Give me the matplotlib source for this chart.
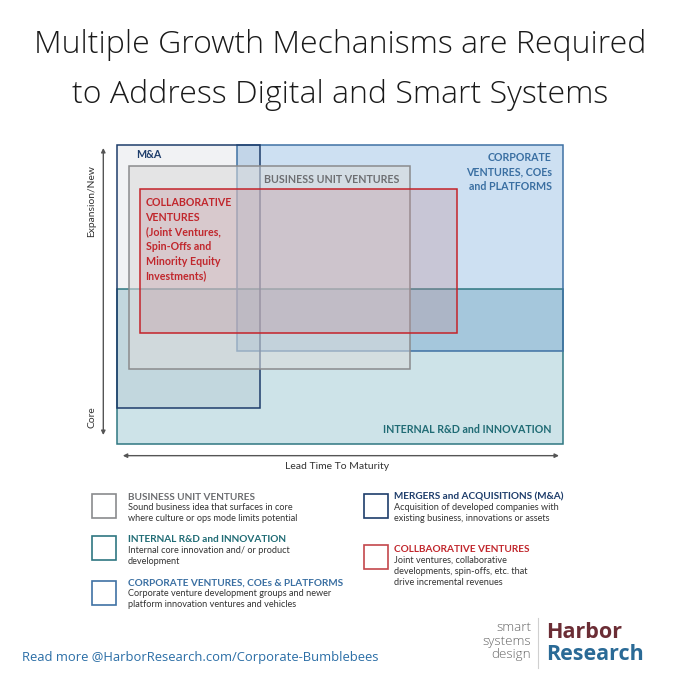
import matplotlib
matplotlib.use("Agg")
import matplotlib.pyplot as plt
from matplotlib.patches import Rectangle
from itertools import combinations

# ---------------- data ----------------
title_lines = ["Multiple Growth Mechanisms are Required", "to Address Digital and Smart Systems"]

# rectangles in chart units (x: lead time 0-100, y: core 0 -> expansion 100): x, y, w, h
rect_internal = (0.0, 0.0, 100.0, 52.0)
rect_corporate = (27.0, 31.0, 73.0, 69.0)
rect_mna = (0.0, 12.0, 32.0, 88.0)
rect_buv = (2.8, 25.0, 63.0, 68.0)
rect_collab = (5.1, 37.1, 71.1, 48.3)

label_mna = "M&A"
label_buv = "BUSINESS UNIT VENTURES"
label_corp = "CORPORATE\nVENTURES, COEs\nand PLATFORMS"
label_collab = "COLLABORATIVE\nVENTURES\n(Joint Ventures,\nSpin-Offs and\nMinority Equity\nInvestments)"
label_internal = "INTERNAL R&D and INNOVATION"

axis_y_top = "Expansion/New"
axis_y_bottom = "Core"
axis_x = "Lead Time To Maturity"

legend_titles = ["BUSINESS UNIT VENTURES", "INTERNAL R&D and INNOVATION",
                 "CORPORATE VENTURES, COEs & PLATFORMS",
                 "MERGERS and ACQUISITIONS (M&A)", "COLLBAORATIVE VENTURES"]
legend_desc = ["Sound business idea that surfaces in core\nwhere culture or ops mode limits potential",
               "Internal core innovation and/ or product\ndevelopment",
               "Corporate venture development groups and newer\nplatform innovation ventures and vehicles",
               "Acquisition of developed companies with\nexisting business, innovations or assets",
               "Joint ventures, collaborative\ndevelopments, spin-offs, etc. that\ndrive incremental revenues"]

footer = "Read more @HarborResearch.com/Corporate-Bumblebees"
logo_small = "smart\nsystems\ndesign"
logo_top = "Harbor"
logo_bottom = "Research"

# ---------------- styles ----------------
C_INT_FILL = (205, 227, 232)
C_CORP_FILL = (205, 224, 242)
C_MNA_FILL = (241, 242, 244)
C_INT = "#2f7781"
C_CORP = "#3f72a4"
C_MNA = "#1e3d6b"
C_BUV = "#8a8b8d"
C_COL = "#c4232a"
C_BUV_TXT = "#6d6e71"
C_INT_TXT = "#1f6b74"
C_CORP_TXT = "#3a6fa2"
C_COL_TXT = "#c1272d"
BOLD = "Lato"
REG = "Lato"
FS_CHART = 7.7

W = H = 680
fig = plt.figure(figsize=(6.8, 6.8), dpi=100)
fig.patch.set_facecolor("white")


def fx(x):
    return x / W


def fy(y):
    return 1 - y / H


# chart axes
left, top, right, bottom = 117, 145, 563, 444
ax = fig.add_axes([fx(left), fy(bottom), (right - left) / W, (bottom - top) / H])
ax.set_xlim(0, 100)
ax.set_ylim(0, 100)
ax.axis("off")

base = [(rect_internal, C_INT_FILL, C_INT), (rect_corporate, C_CORP_FILL, C_CORP),
        (rect_mna, C_MNA_FILL, C_MNA)]


def inter(a, b):
    x0 = max(a[0], b[0]); y0 = max(a[1], b[1])
    x1 = min(a[0] + a[2], b[0] + b[2]); y1 = min(a[1] + a[3], b[1] + b[3])
    if x1 <= x0 or y1 <= y0:
        return None
    return (x0, y0, x1 - x0, y1 - y0)


# multiply-blended base layers
for k in range(1, len(base) + 1):
    for combo in combinations(base, k):
        r = combo[0][0]
        col = [1.0, 1.0, 1.0]
        for idx, (rr, c, _) in enumerate(combo):
            if idx > 0 and r is not None:
                r = inter(r, rr)
            col = [col[i] * c[i] / 255 for i in range(3)]
        if r is None:
            continue
        ax.add_patch(Rectangle((r[0], r[1]), r[2], r[3], facecolor=col,
                               edgecolor="none", clip_on=False, zorder=1))

for rr, _, ec in base:
    ax.add_patch(Rectangle((rr[0], rr[1]), rr[2], rr[3], fill=False, edgecolor=ec,
                           lw=1.1, clip_on=False, zorder=2))

ax.add_patch(Rectangle((rect_buv[0], rect_buv[1]), rect_buv[2], rect_buv[3],
                       facecolor=(219 / 255, 219 / 255, 219 / 255, 0.57), edgecolor=C_BUV,
                       lw=1.1, clip_on=False, zorder=3))
ax.add_patch(Rectangle((rect_collab[0], rect_collab[1]), rect_collab[2], rect_collab[3],
                       facecolor=(190 / 255, 140 / 255, 150 / 255, 0.30), edgecolor=C_COL,
                       lw=1.1, clip_on=False, zorder=4))

# labels inside chart
ax.text(4.3, 96.7, label_mna, color=C_MNA, fontsize=FS_CHART, fontweight="bold",
        family=BOLD, ha="left", va="center", zorder=5)
ax.text(48.2, 88.6, label_buv, color=C_BUV_TXT, fontsize=FS_CHART, fontweight="bold",
        family=BOLD, ha="center", va="center", zorder=5)
ax.text(97.5, 91.0, label_corp, color=C_CORP_TXT, fontsize=FS_CHART, fontweight="bold",
        family=BOLD, ha="right", va="center", linespacing=1.4, zorder=5)
ax.text(6.4, 68.4, label_collab, color=C_COL_TXT, fontsize=FS_CHART, fontweight="bold",
        family=BOLD, ha="left", va="center", linespacing=1.4, zorder=5)
ax.text(97.5, 5.0, label_internal, color=C_INT_TXT, fontsize=FS_CHART, fontweight="bold",
        family=BOLD, ha="right", va="center", zorder=5)

# axis arrows
arrowprops = dict(arrowstyle="<|-|>", color="#555555", lw=1.0, mutation_scale=6,
                  shrinkA=0, shrinkB=0)
ax.annotate("", xy=(-3.07, 99.0), xytext=(-3.07, 3.0), arrowprops=arrowprops,
            annotation_clip=False)
ax.annotate("", xy=(99.1, -3.9), xytext=(1.3, -3.9), arrowprops=arrowprops,
            annotation_clip=False)
ax.text(-4.6, 81.3, axis_y_top, rotation=90, fontsize=7.4, color="#333333", family=REG,
        ha="right", va="center", clip_on=False)
ax.text(-4.6, 9.0, axis_y_bottom, rotation=90, fontsize=7.4, color="#333333", family=REG,
        ha="right", va="center", clip_on=False)
ax.text(49.3, -7.4, axis_x, fontsize=7.5, color="#333333", family=REG,
        ha="center", va="center", clip_on=False)

# title
fig.text(fx(340), fy(45), title_lines[0], fontsize=23, family="Open Sans",
         fontweight="light", color="#1a1a1a", ha="center", va="center")
fig.text(fx(340), fy(95), title_lines[1], fontsize=23, family="Open Sans",
         fontweight="light", color="#1a1a1a", ha="center", va="center")

# legend
leg_colors = [C_BUV, C_INT, C_CORP, C_MNA, "#c4474b"]
leg_title_colors = [C_BUV_TXT, C_INT_TXT, C_CORP_TXT, C_MNA, C_COL_TXT]
leg_box_pos = [(92, 494), (92, 536), (92, 581), (364, 494), (364, 545)]
leg_text_pos = [(128, 497), (128, 540), (128, 583), (394, 497), (394, 550)]
for i in range(5):
    bx, by = leg_box_pos[i]
    fig.patches.append(Rectangle((fx(bx), fy(by + 24)), 24 / W, 24 / H, transform=fig.transFigure,
                                 facecolor="white", edgecolor=leg_colors[i], lw=1.2))
    tx, ty = leg_text_pos[i]
    fig.text(fx(tx), fy(ty), legend_titles[i], fontsize=7.2, fontweight="bold", family=BOLD,
             color=leg_title_colors[i], ha="left", va="center")
    fig.text(fx(tx), fy(ty + 6), legend_desc[i], fontsize=6.6, family=REG,
             color="#333333", ha="left", va="top", linespacing=1.3)

# footer
fig.text(fx(22), fy(658), footer, fontsize=9.4, family="Open Sans", color="#2b6ea6",
         ha="left", va="center")
fig.text(fx(531), fy(641), logo_small, fontsize=9.6, family="Open Sans", fontweight="light",
         color="#666666", ha="right", va="center", linespacing=1.05)
fig.lines.append(plt.Line2D([fx(538), fx(538)], [fy(618), fy(668)], transform=fig.transFigure,
                            color="#d0d0d0", lw=0.8))
fig.text(fx(546), fy(632), logo_top, fontsize=15.5, family="Open Sans", fontweight="bold",
         color="#6b2d35", ha="left", va="center")
fig.text(fx(546), fy(655), logo_bottom, fontsize=15.5, family="Open Sans", fontweight="bold",
         color="#2a6a96", ha="left", va="center")

fig.savefig("out.png", dpi=100, facecolor="white")
